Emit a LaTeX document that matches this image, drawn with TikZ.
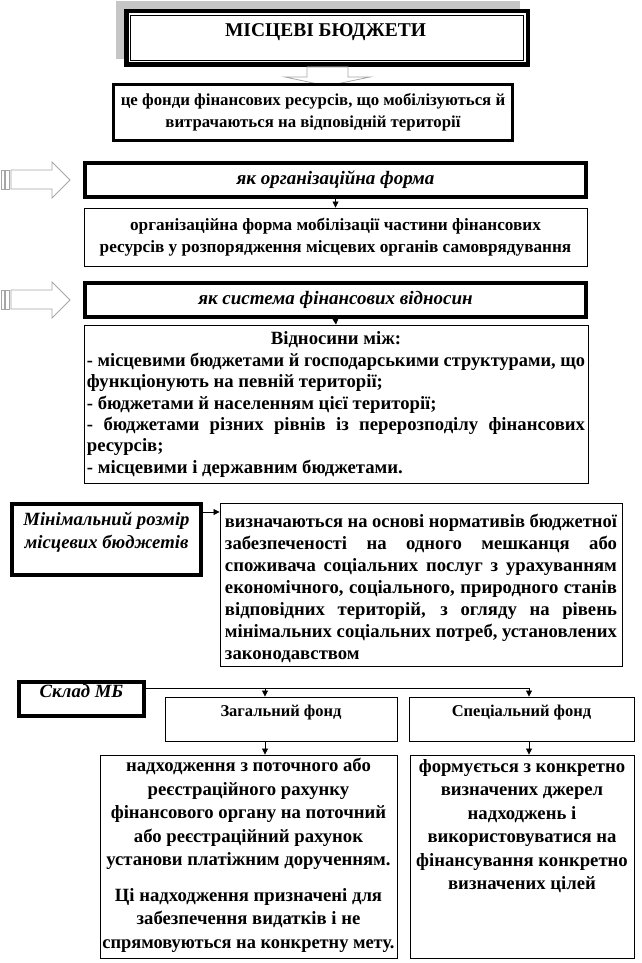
\documentclass[tikz,border=0pt]{standalone}
\usepackage{fontspec}
\usepackage{graphicx}
\setmainfont{Liberation Serif}
\usetikzlibrary{arrows.meta}
\newcommand\bodyf{\fontsize{18.7}{21.4}\selectfont\bfseries}
\newlength\jlw
\newcommand\jl[2]{\settowidth\jlw{#2}\ifdim\jlw>#1\relax\resizebox{#1}{\height}{#2}\else\makebox[#1][s]{#2}\fi}
\newcommand\fitl[2]{\settowidth\jlw{#2}\ifdim\jlw>#1\relax\resizebox{#1}{\height}{#2}\else #2\fi}
\begin{document}
\begin{tikzpicture}[x=1pt,y=-1pt,
  thinbox/.style={draw, line width=0.9pt, inner sep=0pt, fill=white},
  thickbox/.style={draw, line width=3.6pt, inner sep=0pt, fill=white},
  txt/.style={inner sep=0pt, font=\bodyf},
  arr/.style={line width=0.8pt, -{Triangle[length=6pt,width=6pt]}},
  blockarrow/.style={draw=gray!70, fill=white, line width=0.8pt}
]
\useasboundingbox (0,0) rectangle (641,963);
% title
\fill[gray!45] (116,1) rectangle (520,59);
\node[draw, line width=4.5pt, inner sep=0pt, fill=white, minimum width=401.5, minimum height=53.5] (title) at (327,38) {};
\draw[line width=1pt] (130.5,15.5) rectangle (523.5,60.5);
\node[inner sep=0pt, font=\fontsize{19.5}{22}\selectfont\bfseries] (titlet) at (325.5,32.5) {МІСЦЕВІ БЮДЖЕТИ};
% block arrow down
\draw[blockarrow] (307,67) -- (348,67) -- (348,77) -- (370,77) -- (327,86) -- (285,77) -- (307,77) -- cycle;
% box 2
\node[draw, line width=3pt, inner sep=0pt, fill=white, minimum width=399, minimum height=56, align=center, font=\fontsize{16.8}{22}\selectfont\bfseries] (b2) at (313,112.5)
  {це фонди фінансових ресурсів, що мобілізуються й\\витрачаються на відповідній території};
% left block arrows
\foreach \yy in {0,120}{
  \begin{scope}[yshift=-\yy pt]
  \draw[blockarrow, line width=0.6pt] (1,170) rectangle (4,189);
  \draw[blockarrow, line width=0.6pt] (5.5,170) rectangle (9,189);
  \draw[blockarrow] (11,170) -- (52,170) -- (52,162) -- (70,180) -- (52,198) -- (52,189) -- (11,189) -- cycle;
  \end{scope}
}
% box 3
\node[thickbox, minimum width=501.5, minimum height=34.5, font=\fontsize{19}{20}\selectfont\bfseries\itshape] (b3) at (335.5,180) {як організаційна форма};
% box 4
\node[thinbox, minimum width=503, minimum height=58, align=center, font=\fontsize{17.2}{22.5}\selectfont\bfseries] (b4) at (335.5,237)
  {організаційна форма мобілізації частини фінансових\\\fitl{495pt}{ресурсів у розпорядження місцевих органів самоврядування}};
\draw[arr] (b3.south) -- (b4.north);
% box 5
\node[thickbox, minimum width=501.5, minimum height=34.5, font=\fontsize{19}{20}\selectfont\bfseries\itshape] (b5) at (335.5,300) {як система фінансових відносин};
% box 6
\node[thinbox, minimum width=504, minimum height=158] (b6) at (336,404) {};
\node[txt, align=left] (b6t) at (336,404.5) {%
  \makebox[498pt]{Відносини між:}\\
  \jl{498pt}{- місцевими бюджетами й господарськими структурами, що}\\
  функціонують на певній території;\\
  - бюджетами й населенням цієї території;\\
  \jl{498pt}{- бюджетами різних рівнів із перерозподілу фінансових}\\
  ресурсів;\\
  - місцевими і державним бюджетами.};
\draw[arr] (b5.south) -- (b6.north);
% min box
\node[thickbox, minimum width=189.5, minimum height=71.5] (minb) at (106.5,539.5) {};
\node[inner sep=0pt, align=center, font=\fontsize{18.7}{23}\selectfont\bfseries\itshape] (minbt) at (106.5,532.5) {\fitl{176pt}{Мінімальний розмір}\\\fitl{176pt}{місцевих бюджетів}};
% right box
\node[thinbox, minimum width=402, minimum height=163] (rb) at (421,584.5) {};
\node[txt, align=left, font=\fontsize{18.7}{22}\selectfont\bfseries] (rbt) at (421,588) {%
  \jl{392pt}{визначаються на основі нормативів бюджетної}\\
  \jl{392pt}{забезпеченості на одного мешканця або}\\
  \jl{392pt}{споживача соціальних послуг з урахуванням}\\
  \jl{392pt}{економічного, соціального, природного станів}\\
  \jl{392pt}{відповідних територій, з огляду на рівень}\\
  \jl{392pt}{мінімальних соціальних потреб, установлених}\\
  законодавством};
\coordinate (ay) at (0,512);
\draw[arr] (minb.east |- ay) -- (rb.west |- ay);
% sklad
\node[thickbox, minimum width=125.5, minimum height=34.5] (sk) at (81.5,699) {};
\node[inner sep=0pt, font=\fontsize{18.7}{20}\selectfont\bfseries\itshape] (skt) at (81.5,691) {Склад МБ};
% funds
\node[thinbox, minimum width=232, minimum height=44] (zag) at (281,719) {};
\node[txt, font=\fontsize{16.5}{20}\selectfont\bfseries] (zagt) at (281,713) {Загальний фонд};
\node[thinbox, minimum width=225, minimum height=44] (spec) at (521.5,719) {};
\node[txt, font=\fontsize{16.5}{20}\selectfont\bfseries] (spect) at (521.5,713) {Спеціальний фонд};
\coordinate (j1) at (265,688);
\coordinate (j2) at (529,688);
\draw[line width=0.8pt] (sk.east |- j1) -- (j2);
\draw[arr] (j1) -- (j1 |- zag.north);
\draw[arr] (j2) -- (j2 |- spec.north);
% lower boxes
\node[thinbox, minimum width=297, minimum height=203] (ll) at (248.5,856.5) {};
\node[txt, align=center, font=\fontsize{18.7}{23.5}\selectfont\bfseries] (llt) at (248.5,855.5) {%
  надходження з поточного або\\
  реєстраційного рахунку\\
  фінансового органу на поточний\\
  або реєстраційний рахунок\\
  \fitl{290pt}{установи платіжним дорученням.}\\[12pt]
  Ці надходження призначені для\\
  забезпечення видатків і не\\
  \fitl{292pt}{спрямовуються на конкретну мету.}};
\node[thinbox, minimum width=224, minimum height=203] (lr) at (522,856.5) {};
\node[txt, align=center, font=\fontsize{18.7}{23.5}\selectfont\bfseries] (lrt) at (522,826) {%
  формується з конкретно\\
  визначених джерел\\
  надходжень і\\
  використовуватися на\\
  \fitl{218pt}{фінансування конкретно}\\
  визначених цілей};
\draw[arr] (j1 |- zag.south) -- (j1 |- ll.north);
\draw[arr] (j2 |- spec.south) -- (j2 |- lr.north);
\end{tikzpicture}
\end{document}
